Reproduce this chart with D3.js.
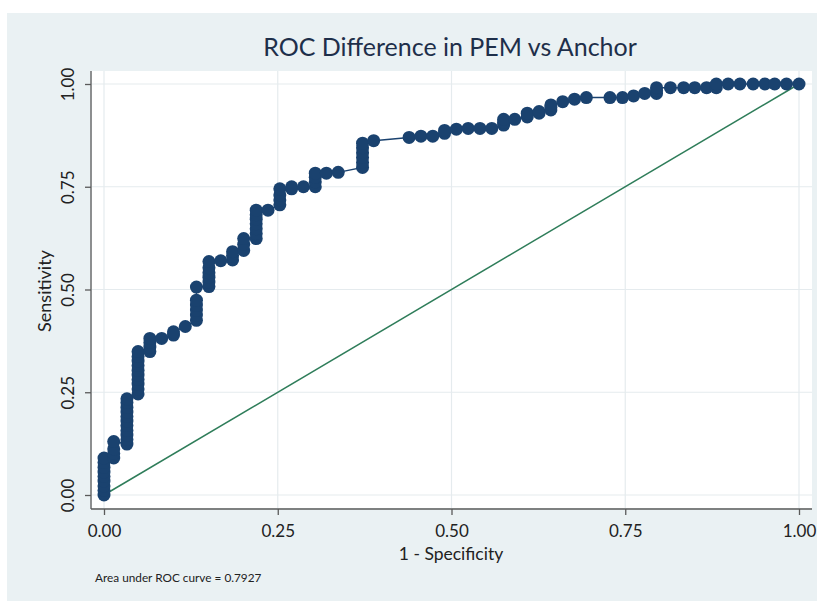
<!DOCTYPE html>
<html>
<head>
<meta charset="utf-8">
<script src="https://cdn.jsdelivr.net/npm/d3@7"></script>
<style>
  body { margin: 0; background: #fff; }
  text { font-family: Lato, "Open Sans", sans-serif; }
</style>
</head>
<body>
<script>
// ROC points: 1 - specificity (fpr) and sensitivity (tpr)
const fpr = [
  0, 0, 0, 0, 0, 0, 0, 0, 0,
  0.014, 0.014, 0.014, 0.014,
  0.033, 0.033, 0.033, 0.033, 0.033, 0.033, 0.033, 0.033, 0.033, 0.033, 0.033,
  0.049, 0.049, 0.049, 0.049, 0.049, 0.049, 0.049, 0.049, 0.049, 0.049,
  0.066, 0.066, 0.066, 0.066,
  0.083, 0.100, 0.100, 0.117,
  0.133, 0.133, 0.133, 0.133, 0.133, 0.133,
  0.151, 0.151, 0.151, 0.151, 0.151, 0.151,
  0.168, 0.185, 0.185, 0.185, 0.201, 0.201, 0.201,
  0.219, 0.219, 0.219, 0.219, 0.219, 0.219, 0.219,
  0.236, 0.253, 0.253, 0.253, 0.253, 0.270, 0.270, 0.287,
  0.304, 0.304, 0.304, 0.304, 0.320, 0.337,
  0.372, 0.372, 0.372, 0.372, 0.372, 0.372, 0.388,
  0.439, 0.456, 0.473, 0.490, 0.490, 0.507, 0.524, 0.541, 0.558,
  0.575, 0.575, 0.575, 0.591, 0.609, 0.609, 0.626, 0.626,
  0.643, 0.643, 0.643, 0.660, 0.677, 0.694, 0.728, 0.746, 0.762, 0.778,
  0.795, 0.795, 0.795, 0.815, 0.834, 0.850, 0.867, 0.881, 0.881,
  0.898, 0.915, 0.934, 0.951, 0.965, 0.982, 1.000
];
const tpr = [
  0.000, 0.011, 0.022, 0.034, 0.045, 0.056, 0.067, 0.079, 0.090,
  0.090, 0.101, 0.112, 0.130,
  0.124, 0.135, 0.146, 0.157, 0.169, 0.180, 0.191, 0.202, 0.213, 0.225, 0.234,
  0.246, 0.258, 0.270, 0.281, 0.292, 0.303, 0.315, 0.326, 0.337, 0.349,
  0.349, 0.360, 0.371, 0.381,
  0.381, 0.389, 0.397, 0.410,
  0.425, 0.438, 0.450, 0.462, 0.474, 0.506,
  0.507, 0.518, 0.530, 0.541, 0.553, 0.568,
  0.570, 0.572, 0.582, 0.592, 0.595, 0.610, 0.624,
  0.624, 0.636, 0.648, 0.660, 0.671, 0.682, 0.693,
  0.693, 0.706, 0.718, 0.730, 0.745, 0.745, 0.750, 0.750,
  0.750, 0.762, 0.773, 0.783, 0.783, 0.785,
  0.797, 0.809, 0.821, 0.833, 0.845, 0.856, 0.862,
  0.870, 0.873, 0.873, 0.880, 0.887, 0.890, 0.892, 0.892, 0.892,
  0.900, 0.907, 0.914, 0.914, 0.920, 0.929, 0.929, 0.933,
  0.937, 0.943, 0.949, 0.957, 0.963, 0.967, 0.967, 0.967, 0.971, 0.977,
  0.977, 0.984, 0.991, 0.991, 0.991, 0.991, 0.991, 0.991, 1.000,
  1.000, 1.000, 1.000, 1.000, 1.000, 1.000, 1.000
];
const ticks = [0, 0.25, 0.5, 0.75, 1];
const tickLabels = ["0.00", "0.25", "0.50", "0.75", "1.00"];
const title = "ROC Difference in PEM vs Anchor";
const xTitle = "1 - Specificity";
const yTitle = "Sensitivity";
const note = "Area under ROC curve = 0.7927";

const width = 817;
const height = 601;
const navy = "#1a426f";
const green = "#2f7d5a";

const svg = d3.select("body")
  .append("svg")
  .attr("width", width)
  .attr("height", height);

// graph region and plot region
svg.append("rect").attr("width", width).attr("height", height).attr("fill", "#fff");
svg.append("rect")
  .attr("x", 7).attr("y", 13)
  .attr("width", width - 7).attr("height", height - 13)
  .attr("fill", "#eaf1f3");

const plot = { left: 92, top: 71, right: 812, bottom: 508 };
svg.append("rect")
  .attr("x", plot.left).attr("y", plot.top)
  .attr("width", plot.right - plot.left).attr("height", plot.bottom - plot.top)
  .attr("fill", "#fff");

const x = d3.scaleLinear().domain([0, 1]).range([104, 799]);
const y = d3.scaleLinear().domain([0, 1]).range([495, 84]);

// grid
svg.append("g")
  .selectAll("line.h")
  .data(ticks)
  .join("line")
  .attr("x1", plot.left).attr("x2", plot.right)
  .attr("y1", d => y(d)).attr("y2", d => y(d))
  .attr("stroke", "#e5ebee").attr("stroke-width", 1.2);
svg.append("g")
  .selectAll("line.v")
  .data(ticks)
  .join("line")
  .attr("x1", d => x(d)).attr("x2", d => x(d))
  .attr("y1", plot.top).attr("y2", plot.bottom)
  .attr("stroke", "#e5ebee").attr("stroke-width", 1.2);

// axes
const xAxis = d3.axisBottom(x)
  .tickValues(ticks)
  .tickFormat((d, i) => tickLabels[i])
  .tickSize(6)
  .tickPadding(10);
const gx = svg.append("g")
  .attr("transform", "translate(0," + (plot.bottom + 1) + ")")
  .call(xAxis);
gx.select(".domain").attr("d", "M" + (plot.left - 1) + ",0H" + plot.right);

const yAxis = d3.axisLeft(y)
  .tickValues(ticks)
  .tickFormat((d, i) => tickLabels[i])
  .tickSize(6);
const gy = svg.append("g")
  .attr("transform", "translate(" + (plot.left - 1) + ",0)")
  .call(yAxis);
gy.select(".domain").attr("d", "M0," + plot.top + "V" + (plot.bottom + 1));

svg.selectAll(".domain, .tick line").attr("stroke", "#5a5a5a").attr("stroke-width", 1.3);
svg.selectAll(".tick text")
  .attr("font-family", "Lato, sans-serif")
  .attr("font-size", 17)
  .attr("fill", "#222");
gy.selectAll(".tick text")
  .attr("text-anchor", "middle")
  .attr("x", null).attr("dy", null)
  .attr("transform", "translate(-24,0) rotate(-90)")
  .attr("dominant-baseline", "central");

// reference line
svg.append("line")
  .attr("x1", x(0)).attr("y1", y(0))
  .attr("x2", x(1)).attr("y2", y(1))
  .attr("stroke", green).attr("stroke-width", 1.5);

// ROC curve
const pts = fpr.map((d, i) => [d, tpr[i]]);
svg.append("path")
  .datum(pts)
  .attr("fill", "none")
  .attr("stroke", navy)
  .attr("stroke-width", 1.5)
  .attr("d", d3.line().x(d => x(d[0])).y(d => y(d[1])));
svg.append("g")
  .selectAll("circle")
  .data(pts)
  .join("circle")
  .attr("cx", d => x(d[0]))
  .attr("cy", d => y(d[1]))
  .attr("r", 6.5)
  .attr("fill", navy);

// texts
svg.append("text")
  .attr("x", 450).attr("y", 56)
  .attr("text-anchor", "middle")
  .attr("font-size", 25)
  .attr("fill", "#1e2f4a")
  .text(title);
svg.append("text")
  .attr("x", 451).attr("y", 560)
  .attr("text-anchor", "middle")
  .attr("font-size", 17.5)
  .attr("fill", "#222")
  .text(xTitle);
svg.append("text")
  .attr("transform", "translate(51,291) rotate(-90)")
  .attr("text-anchor", "middle")
  .attr("font-size", 18)
  .attr("fill", "#222")
  .text(yTitle);
svg.append("text")
  .attr("x", 95).attr("y", 582)
  .attr("font-size", 11.8)
  .attr("fill", "#222")
  .text(note);
</script>
</body>
</html>
